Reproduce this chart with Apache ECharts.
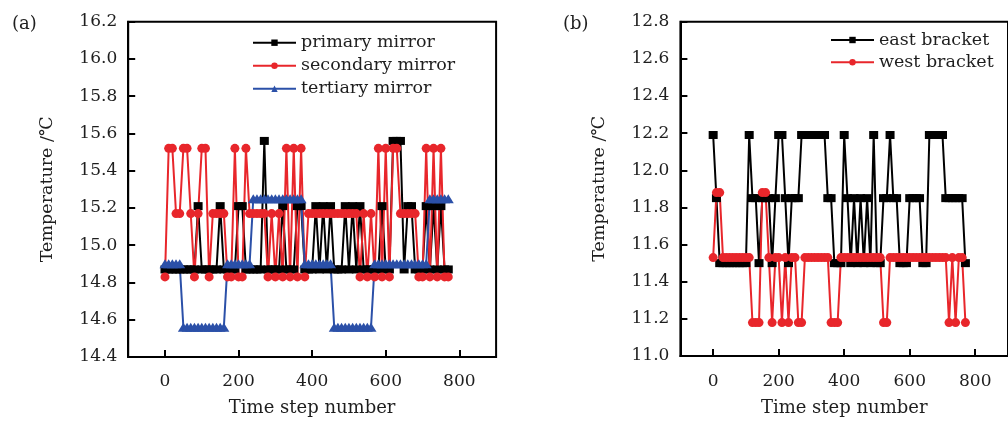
<!DOCTYPE html>
<html>
<head>
<meta charset="utf-8">
<script src="https://cdn.jsdelivr.net/npm/echarts@6/dist/echarts.min.js"></script>
<style>
html,body{margin:0;padding:0;background:#fff;}
#c{width:1008px;height:422px;}
</style>
</head>
<body>
<div id="c"></div>
<script>
// time steps (sampled every 10 steps)
var steps = [0,10,20,30,40,50,60,70,80,90,
  100,110,120,130,140,150,160,170,180,190,
  200,210,220,230,240,250,260,270,280,290,
  300,310,320,330,340,350,360,370,380,390,
  400,410,420,430,440,450,460,470,480,490,
  500,510,520,530,540,550,560,570,580,590,
  600,610,620,630,640,650,660,670,680,690,
  700,710,720,730,740,750,760,770];

// (a) mirrors, temperature in deg C
var primaryMirror = [14.87,14.87,14.87,14.87,14.87,14.87,14.87,14.87,14.87,15.21,
  14.87,14.87,14.87,14.87,14.87,15.21,14.87,14.87,14.87,14.87,
  15.21,15.21,14.87,14.87,14.87,14.87,14.87,15.56,14.87,14.87,
  14.87,14.87,15.21,14.87,14.87,14.87,15.21,15.21,14.87,14.87,
  14.87,15.21,14.87,15.21,14.87,15.21,14.87,14.87,14.87,15.21,
  14.87,15.21,14.87,15.21,14.87,14.87,14.87,14.87,14.87,15.21,
  14.87,14.87,15.56,15.56,15.56,14.87,15.21,15.21,14.87,14.87,
  14.87,15.21,14.87,15.21,14.87,15.21,14.87,14.87];

var secondaryMirror = [14.83,15.52,15.52,15.17,15.17,15.52,15.52,15.17,14.83,15.17,
  15.52,15.52,14.83,15.17,15.17,15.17,15.17,14.83,14.83,15.52,
  14.83,14.83,15.52,15.17,15.17,15.17,15.17,15.17,14.83,15.17,
  14.83,15.17,14.83,15.52,14.83,15.52,14.83,15.52,14.83,15.17,
  15.17,15.17,15.17,15.17,15.17,15.17,15.17,15.17,15.17,15.17,
  15.17,15.17,15.17,14.83,15.17,14.83,15.17,14.83,15.52,14.83,
  15.52,14.83,15.52,15.52,15.17,15.17,15.17,15.17,15.17,14.83,
  14.83,15.52,14.83,15.52,14.83,15.52,14.83,14.83];

var tertiaryMirror = [14.90,14.90,14.90,14.90,14.90,14.56,14.56,14.56,14.56,14.56,
  14.56,14.56,14.56,14.56,14.56,14.56,14.56,14.90,14.90,14.90,
  14.90,14.90,14.90,14.90,15.25,15.25,15.25,15.25,15.25,15.25,
  15.25,15.25,15.25,15.25,15.25,15.25,15.25,15.25,14.90,14.90,
  14.90,14.90,14.90,14.90,14.90,14.90,14.56,14.56,14.56,14.56,
  14.56,14.56,14.56,14.56,14.56,14.56,14.56,14.90,14.90,14.90,
  14.90,14.90,14.90,14.90,14.90,14.90,14.90,14.90,14.90,14.90,
  14.90,14.90,15.25,15.25,15.25,15.25,15.25,15.25];

// (b) brackets
var eastBracket = [12.19,11.85,11.50,11.50,11.50,11.50,11.50,11.50,11.50,11.50,
  11.50,12.19,11.85,11.85,11.50,11.85,11.85,11.85,11.50,11.85,
  12.19,12.19,11.85,11.50,11.85,11.85,11.85,12.19,12.19,12.19,
  12.19,12.19,12.19,12.19,12.19,11.85,11.85,11.50,11.50,11.50,
  12.19,11.85,11.50,11.85,11.50,11.85,11.50,11.85,11.50,12.19,
  11.50,11.50,11.85,11.85,12.19,11.85,11.85,11.50,11.50,11.50,
  11.85,11.85,11.85,11.85,11.50,11.50,12.19,12.19,12.19,12.19,
  12.19,11.85,11.85,11.85,11.85,11.85,11.85,11.50];

var westBracket = [11.53,11.88,11.88,11.53,11.53,11.53,11.53,11.53,11.53,11.53,
  11.53,11.53,11.18,11.18,11.18,11.88,11.88,11.53,11.18,11.53,
  11.53,11.18,11.53,11.18,11.53,11.53,11.18,11.18,11.53,11.53,
  11.53,11.53,11.53,11.53,11.53,11.53,11.18,11.18,11.18,11.53,
  11.53,11.53,11.53,11.53,11.53,11.53,11.53,11.53,11.53,11.53,
  11.53,11.53,11.18,11.18,11.53,11.53,11.53,11.53,11.53,11.53,
  11.53,11.53,11.53,11.53,11.53,11.53,11.53,11.53,11.53,11.53,
  11.53,11.53,11.18,11.53,11.18,11.53,11.53,11.18];

var xTicks = [0,200,400,600,800];
var legendA = ['primary mirror','secondary mirror','tertiary mirror'];
var legendB = ['east bracket','west bracket'];

function pairs(xs, ys){ var o=[]; for(var i=0;i<ys.length;i++){ o.push([xs[i], ys[i]]); } return o; }

var FONT = 'DejaVu Serif';
var TXT = '#1e1e1e';
var BLACK = '#000000', RED = '#e8262b', BLUE = '#2b50a8';

function xAxisCfg(gi, margin, gap){
  return {
    type:'value', gridIndex:gi, min:-100, max:900, interval:100,
    name:'Time step number', nameLocation:'middle', nameGap:gap,
    nameTextStyle:{fontFamily:FONT, fontSize:18, color:TXT},
    axisLine:{show:true, onZero:false, lineStyle:{color:'#000', width:2}},
    axisTick:{show:true, inside:true, length:7, customValues:xTicks, lineStyle:{color:'#000', width:2}},
    axisLabel:{show:true, customValues:xTicks, margin:margin, fontFamily:FONT, fontSize:17, color:TXT},
    splitLine:{show:false}
  };
}
function yAxisCfg(gi, mn, mx){
  return {
    type:'value', gridIndex:gi, min:mn, max:mx, interval:0.2,
    name:'Temperature /\u2103', nameLocation:'middle', nameGap:72,
    nameTextStyle:{fontFamily:FONT, fontSize:17.5, color:TXT},
    axisLine:{show:true, onZero:false, lineStyle:{color:'#000', width:2}},
    axisTick:{show:true, inside:true, length:7, lineStyle:{color:'#000', width:2}},
    axisLabel:{margin:11, fontFamily:FONT, fontSize:17, color:TXT, formatter:function(v){return v.toFixed(1);}},
    splitLine:{show:false}
  };
}
function lineSeries(name, xi, data, color, symbol, size){
  return {
    name:name, type:'line', xAxisIndex:xi, yAxisIndex:xi, data:data,
    symbol:symbol, symbolSize:size, showSymbol:true, showAllSymbol:true,
    lineStyle:{color:color, width:2}, itemStyle:{color:color},
    emphasis:{disabled:true}, animation:false
  };
}

var chart = echarts.init(document.getElementById('c'), null, {renderer:'canvas'});
chart.setOption({
  animation:false,
  backgroundColor:'#ffffff',
  title:[
    {text:'(a)', left:7, top:10, textStyle:{fontFamily:FONT, fontSize:18, fontWeight:'normal', color:TXT}},
    {text:'(b)', left:558, top:10, textStyle:{fontFamily:FONT, fontSize:18, fontWeight:'normal', color:TXT}}
  ],
  grid:[
    {left:128.2, top:21.7, width:367.9, height:340.6, show:true, borderColor:'#000', borderWidth:2, containLabel:false},
    {left:680.4, top:21.7, width:335.5, height:337.6, show:true, borderColor:'#000', borderWidth:2, containLabel:false}
  ],
  legend:[
    {data:legendA, orient:'vertical', left:252, top:33.7, padding:0, itemWidth:43, itemHeight:8, itemGap:5,
     textStyle:{fontFamily:FONT, fontSize:17.5, color:TXT}, selectedMode:false},
    {data:legendB, orient:'vertical', left:830, top:31, padding:0, itemWidth:43, itemHeight:8, itemGap:4.3,
     textStyle:{fontFamily:FONT, fontSize:17.5, color:TXT}, selectedMode:false}
  ],
  xAxis:[xAxisCfg(0, 16, 42), xAxisCfg(1, 17, 43)],
  yAxis:[yAxisCfg(0, 14.4, 16.2), yAxisCfg(1, 11.0, 12.8)],
  series:[
    lineSeries('primary mirror', 0, pairs(steps, primaryMirror), BLACK, 'rect', [9,8]),
    lineSeries('secondary mirror', 0, pairs(steps, secondaryMirror), RED, 'circle', 9),
    lineSeries('tertiary mirror', 0, pairs(steps, tertiaryMirror), BLUE, 'triangle', [11,9]),
    lineSeries('east bracket', 1, pairs(steps, eastBracket), BLACK, 'rect', [9,8]),
    lineSeries('west bracket', 1, pairs(steps, westBracket), RED, 'circle', 9)
  ]
});
</script>
</body>
</html>
